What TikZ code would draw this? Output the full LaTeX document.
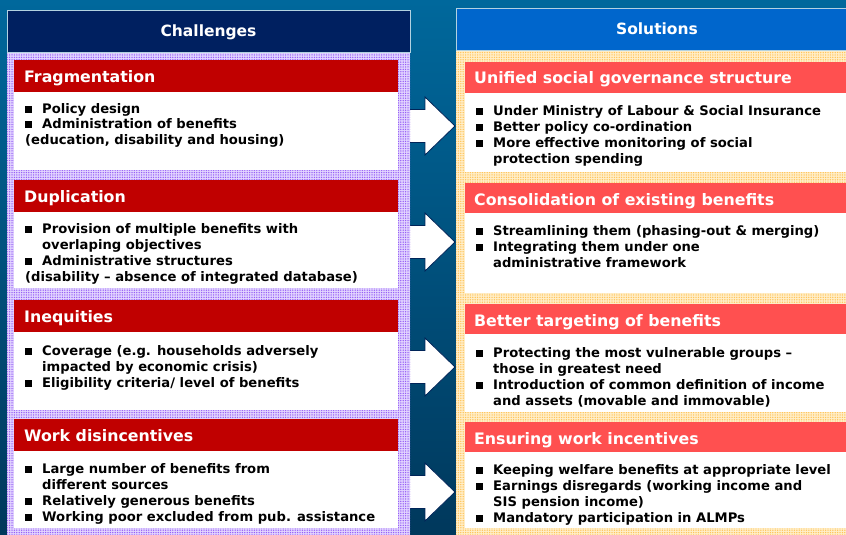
\documentclass[tikz,border=0pt]{standalone}
\usepackage{fontspec}
\setmainfont{DejaVu Sans}
\usetikzlibrary{patterns.meta}
\definecolor{bgtop}{RGB}{0,104,156}
\definecolor{bgbot}{RGB}{0,56,92}
\definecolor{navyhead}{RGB}{0,32,96}
\definecolor{bluehead}{RGB}{0,102,204}
\definecolor{darkred}{RGB}{192,0,0}
\definecolor{salmon}{RGB}{255,80,80}
\definecolor{purpledot}{RGB}{150,95,245}
\definecolor{purplebase}{RGB}{226,212,255}
\definecolor{orangedot}{RGB}{255,196,90}
\definecolor{orangebase}{RGB}{255,238,200}
\definecolor{arrowline}{RGB}{0,36,88}
\newcommand{\bl}{\makebox[17pt][l]{\rule[0.5pt]{7pt}{7pt}}}
\newcommand{\ind}{\hspace*{17pt}}
\begin{document}
\begin{tikzpicture}[x=1pt,y=-1pt,
  boxrect/.style={anchor=north west, inner sep=0, outer sep=0},
  hdrtext/.style={anchor=base, inner sep=0, text=white, font=\bfseries\fontsize{15.5}{18}\selectfont},
  bartitle/.style={anchor=base west, inner sep=0, text=white, font=\bfseries\fontsize{15.8}{18}\selectfont},
  bodytext/.style={anchor=base west, inner sep=0, text=black, font=\bfseries\fontsize{13.15}{16}\selectfont},
  blockarrow/.style={draw=arrowline, line width=0.8pt, fill=white, line join=miter},
  purpleframe/.style={pattern={Dots[distance=2.4pt,radius=0.75pt]}, pattern color=purpledot},
  orangeframe/.style={pattern={Dots[distance=2.4pt,radius=0.75pt]}, pattern color=orangedot}
]
\useasboundingbox (0,0) rectangle (846,535);
% background
\shade[top color=bgtop, bottom color=bgbot] (0,0) rectangle (846,535);

% block arrows
\foreach \c in {126,242,367,492}{
  \draw[blockarrow] (404,\c-16.5) -- (425,\c-16.5) -- (425,\c-29) -- (455,\c)
     -- (425,\c+29) -- (425,\c+16.5) -- (404,\c+16.5) -- cycle;
}

% frames
\fill[purplebase] (7,52) rectangle (410,540);
\fill[purpleframe] (7,52) rectangle (410,540);
\fill[orangebase] (456,50) rectangle (850,540);
\fill[orangeframe] (456,50) rectangle (850,540);

% headers
\node[boxrect, fill=navyhead, draw=white!70!bgtop, line width=0.8pt, minimum width=403, minimum height=42] (hchal) at (7,10) {};
\node[hdrtext] (tchal) at (208.5,36.7) {Challenges};
\node[boxrect, fill=bluehead, draw=white!70!bgtop, line width=0.8pt, minimum width=400, minimum height=42] (hsol) at (456,8) {};
\node[hdrtext] (tsol) at (657,35) {Solutions};

% left bars and bodies
\node[boxrect, fill=darkred, minimum width=384, minimum height=32] (lb1) at (14,60) {};
\node[boxrect, fill=white, minimum width=384, minimum height=78] (lw1) at (14,92) {};
\node[boxrect, fill=darkred, minimum width=384, minimum height=32] (lb2) at (14,180) {};
\node[boxrect, fill=white, minimum width=384, minimum height=76] (lw2) at (14,212) {};
\node[boxrect, fill=darkred, minimum width=384, minimum height=32] (lb3) at (14,300) {};
\node[boxrect, fill=white, minimum width=384, minimum height=78] (lw3) at (14,332) {};
\node[boxrect, fill=darkred, minimum width=384, minimum height=32] (lb4) at (14,419) {};
\node[boxrect, fill=white, minimum width=384, minimum height=77] (lw4) at (14,451) {};

% right bars and bodies
\node[boxrect, fill=salmon, minimum width=390, minimum height=31] (rb1) at (465,62) {};
\node[boxrect, fill=white, minimum width=390, minimum height=79] (rw1) at (465,93) {};
\node[boxrect, fill=salmon, minimum width=390, minimum height=30] (rb2) at (465,183) {};
\node[boxrect, fill=white, minimum width=390, minimum height=80] (rw2) at (465,213) {};
\node[boxrect, fill=salmon, minimum width=390, minimum height=30] (rb3) at (465,304) {};
\node[boxrect, fill=white, minimum width=390, minimum height=78] (rw3) at (465,334) {};
\node[boxrect, fill=salmon, minimum width=390, minimum height=30] (rb4) at (465,422) {};
\node[boxrect, fill=white, minimum width=390, minimum height=76] (rw4) at (465,452) {};

% left titles
\node[bartitle] (lt1) at (24,82.5) {Fragmentation};
\node[bartitle] (lt2) at (24,202.5) {Duplication};
\node[bartitle] (lt3) at (24,322.5) {Inequities};
\node[bartitle] (lt4) at (24,441.5) {Work disincentives};

% right titles
\node[bartitle] (rt1) at (474,84) {Unified social governance structure};
\node[bartitle] (rt2) at (474,205) {Consolidation of existing benefits};
\node[bartitle] (rt3) at (474,326) {Better targeting of benefits};
\node[bartitle] (rt4) at (474,444) {Ensuring work incentives};

% left bodies
\node[bodytext] (lx1) at (25,113) {\parbox[t]{370pt}{\raggedright
  \bl Policy design\\
  \bl Administration of benefits\\
  (education, disability and housing)}};
\node[bodytext] (lx2) at (25,233) {\parbox[t]{370pt}{\raggedright
  \bl Provision of multiple benefits with\\
  \ind overlaping objectives\\
  \bl Administrative structures\\
  (disability -- absence of integrated database)}};
\node[bodytext] (lx3) at (25,355) {\parbox[t]{370pt}{\raggedright
  \bl Coverage (e.g. households adversely\\
  \ind impacted by economic crisis)\\
  \bl Eligibility criteria/ level of benefits}};
\node[bodytext] (lx4) at (25,473) {\parbox[t]{370pt}{\raggedright
  \bl Large number of benefits from\\
  \ind different sources\\
  \bl Relatively generous benefits\\
  \bl Working poor excluded from pub. assistance}};

% right bodies
\node[bodytext] (rx1) at (476,115) {\parbox[t]{368pt}{\raggedright
  \bl Under Ministry of Labour \& Social Insurance\\
  \bl Better policy co-ordination\\
  \bl More effective monitoring of social\\
  \ind protection spending}};
\node[bodytext] (rx2) at (476,235) {\parbox[t]{368pt}{\raggedright
  \bl Streamlining them (phasing-out \& merging)\\
  \bl Integrating them under one\\
  \ind administrative framework}};
\node[bodytext] (rx3) at (476,357) {\parbox[t]{368pt}{\raggedright
  \bl Protecting the most vulnerable groups --\\
  \ind those in greatest need\\
  \bl Introduction of common definition of income\\
  \ind and assets (movable and immovable)}};
\node[bodytext] (rx4) at (476,474) {\parbox[t]{368pt}{\raggedright
  \bl Keeping welfare benefits at appropriate level\\
  \bl Earnings disregards (working income and\\
  \ind SIS pension income)\\
  \bl Mandatory participation in ALMPs}};
\end{tikzpicture}
\end{document}
